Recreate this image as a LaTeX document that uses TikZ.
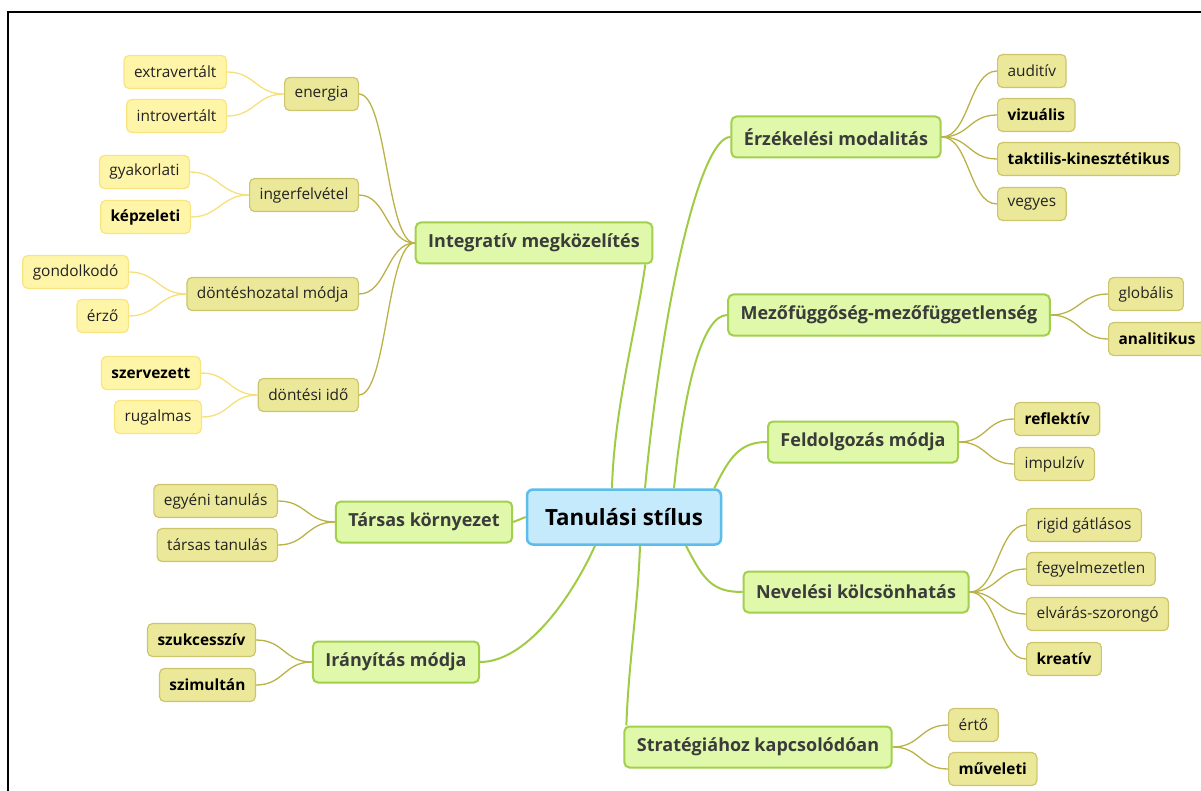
\documentclass[tikz,border=0pt]{standalone}
\usepackage{fontspec}
\setmainfont{Open Sans}
\definecolor{rootF}{HTML}{C5EAFB}
\definecolor{rootB}{HTML}{5CBDEA}
\definecolor{mainF}{HTML}{DFF8AA}
\definecolor{mainB}{HTML}{A2CF4C}
\definecolor{mainT}{HTML}{3B3B3B}
\definecolor{subF}{HTML}{ECE89A}
\definecolor{subB}{HTML}{CDC56C}
\definecolor{leafF}{HTML}{FFF5A9}
\definecolor{leafB}{HTML}{F9E47D}
\definecolor{mainL}{HTML}{A0CC45}
\definecolor{subL}{HTML}{BAB247}
\definecolor{leafL}{HTML}{F6E07B}
\definecolor{txt}{HTML}{222222}
\newcommand\fanL[3]{\draw[#1] (#2.west) .. controls +(-28,0) and +(28,0) .. (#3.east);}
\newcommand\fanR[3]{\draw[#1] (#2.east) .. controls +(28,0) and +(-28,0) .. (#3.west);}
\begin{document}
\begin{tikzpicture}[x=1pt,y=-1pt,
  rootn/.style={draw=rootB, fill=rootF, line width=2.5pt, rounded corners=6pt,
    font=\fontsize{22.3}{26}\selectfont\bfseries, text=black, inner xsep=18pt, inner ysep=0pt, minimum height=55pt},
  mainn/.style={draw=mainB, fill=mainF, line width=2pt, rounded corners=5pt,
    font=\fontsize{18}{21}\selectfont\bfseries, text=mainT, inner xsep=12.5pt, inner ysep=0pt, minimum height=41pt},
  subn/.style={draw=subB, fill=subF, line width=1.2pt, rounded corners=5pt,
    font=\fontsize{15.4}{18}\selectfont, text=txt, inner xsep=10pt, inner ysep=0pt, minimum height=33pt},
  leafn/.style={draw=leafB, fill=leafF, line width=1.2pt, rounded corners=5pt,
    font=\fontsize{15.4}{18}\selectfont, text=txt, inner xsep=10pt, inner ysep=0pt, minimum height=33pt},
  bo/.style={font=\fontsize{15.4}{18}\selectfont\bfseries, text=black},
  mline/.style={draw=mainL, line width=2pt},
  sline/.style={draw=subL, line width=1.3pt},
  lline/.style={draw=leafL, line width=1.3pt},
  frame/.style={draw=black, line width=2.2pt}
]
\useasboundingbox (0,0) rectangle (1201,791);
\coordinate (fA) at (8,800);
\coordinate (fB) at (8,12);
\coordinate (fC) at (1210,12);
\draw[frame] (fA) -- (fB) -- (fC);

% root
\node[rootn] (root) at (624,517) {Tanulási stílus};

% main branches
\node[mainn] (integ) at (534,243) {Integratív megközelítés};
\node[mainn] (tarsas) at (424,522) {Társas környezet};
\node[mainn] (iran) at (396,662) {Irányítás módja};
\node[mainn] (erz) at (836,137) {Érzékelési modalitás};
\node[mainn] (mezo) at (889,315) {Mezőfüggőség-mezőfüggetlenség};
\node[mainn] (feld) at (863,442) {Feldolgozás módja};
\node[mainn] (nev) at (856,592) {Nevelési kölcsönhatás};
\node[mainn] (strat) at (758,747) {Stratégiához kapcsolódóan};

% sub nodes left
\node[subn, anchor=east] (energia) at (359,94) {energia};
\node[subn, anchor=east] (inger) at (359,195) {ingerfelvétel};
\node[subn, anchor=east] (dontes) at (359,294) {döntéshozatal módja};
\node[subn, anchor=east] (ido) at (359,395) {döntési idő};
\node[subn, anchor=east] (egyeni) at (278,501) {egyéni tanulás};
\node[subn, anchor=east] (tarstan) at (278,545) {társas tanulás};
\node[subn, bo, anchor=east] (szukc) at (256,640) {szukcesszív};
\node[subn, bo, anchor=east] (szimul) at (256,685) {szimultán};

% leaves
\node[leafn, anchor=east] (extra) at (227,72) {extravertált};
\node[leafn, anchor=east] (intro) at (227,116) {introvertált};
\node[leafn, anchor=east] (gyak) at (190,172) {gyakorlati};
\node[leafn, bo, anchor=east] (kepz) at (191,217) {képzeleti};
\node[leafn, anchor=east] (gond) at (129,272) {gondolkodó};
\node[leafn, anchor=east] (erzo) at (129,316) {érző};
\node[leafn, bo, anchor=east] (szerv) at (201,373) {szervezett};
\node[leafn, anchor=east] (rugal) at (202,417) {rugalmas};

% sub nodes right
\node[subn, anchor=west] (audi) at (997,71) {auditív};
\node[subn, bo, anchor=west] (vizu) at (997,115) {vizuális};
\node[subn, bo, anchor=west] (takt) at (997,159) {taktilis-kinesztétikus};
\node[subn, anchor=west] (vegy) at (997,204) {vegyes};
\node[subn, anchor=west] (glob) at (1108,294) {globális};
\node[subn, bo, anchor=west] (anal) at (1108,339) {analitikus};
\node[subn, bo, anchor=west] (refl) at (1014,419) {reflektív};
\node[subn, anchor=west] (impu) at (1014,464) {impulzív};
\node[subn, anchor=west] (rigid) at (1026,525) {rigid gátlásos};
\node[subn, anchor=west] (fegy) at (1026,569) {fegyelmezetlen};
\node[subn, anchor=west] (elvar) at (1026,614) {elvárás-szorongó};
\node[subn, bo, anchor=west] (kreat) at (1026,659) {kreatív};
\node[subn, anchor=west] (erto) at (948,725) {értő};
\node[subn, bo, anchor=west] (muv) at (948,769) {műveleti};

% root -> main connectors
\draw[mline] ([xshift=-12pt]root.north) .. controls +(2,-80) and +(-8,60) .. ([xshift=-8pt]integ.south east);
\draw[mline] ([xshift=21pt]root.north) .. controls +(18,-190) and +(-30,0) .. (erz.west);
\draw[mline] ([xshift=50pt]root.north) .. controls +(10,-100) and +(-25,0) .. (mezo.west);
\draw[mline] ([xshift=-8pt]root.north east) .. controls +(15,-30) and +(-28,0) .. (feld.west);
\draw[mline] ([xshift=62pt]root.south) .. controls +(18,35) and +(-30,0) .. (nev.west);
\draw[mline] ([xshift=16pt]root.south) .. controls +(-2,60) and +(2,-60) .. ([xshift=3pt]strat.north west);
\draw[mline] ([xshift=-29pt]root.south) .. controls +(-25,55) and +(45,0) .. (iran.east);
\draw[mline] (root.west) -- (tarsas.east);

% main -> sub
\fanL{sline}{integ}{energia}
\fanL{sline}{integ}{inger}
\fanL{sline}{integ}{dontes}
\fanL{sline}{integ}{ido}
\fanL{sline}{tarsas}{egyeni}
\fanL{sline}{tarsas}{tarstan}
\fanL{sline}{iran}{szukc}
\fanL{sline}{iran}{szimul}
\fanR{sline}{erz}{audi}
\fanR{sline}{erz}{vizu}
\fanR{sline}{erz}{takt}
\fanR{sline}{erz}{vegy}
\fanR{sline}{mezo}{glob}
\fanR{sline}{mezo}{anal}
\fanR{sline}{feld}{refl}
\fanR{sline}{feld}{impu}
\fanR{sline}{nev}{rigid}
\fanR{sline}{nev}{fegy}
\fanR{sline}{nev}{elvar}
\fanR{sline}{nev}{kreat}
\fanR{sline}{strat}{erto}
\fanR{sline}{strat}{muv}

% sub -> leaf
\fanL{lline}{energia}{extra}
\fanL{lline}{energia}{intro}
\fanL{lline}{inger}{gyak}
\fanL{lline}{inger}{kepz}
\fanL{lline}{dontes}{gond}
\fanL{lline}{dontes}{erzo}
\fanL{lline}{ido}{szerv}
\fanL{lline}{ido}{rugal}
\end{tikzpicture}
\end{document}
